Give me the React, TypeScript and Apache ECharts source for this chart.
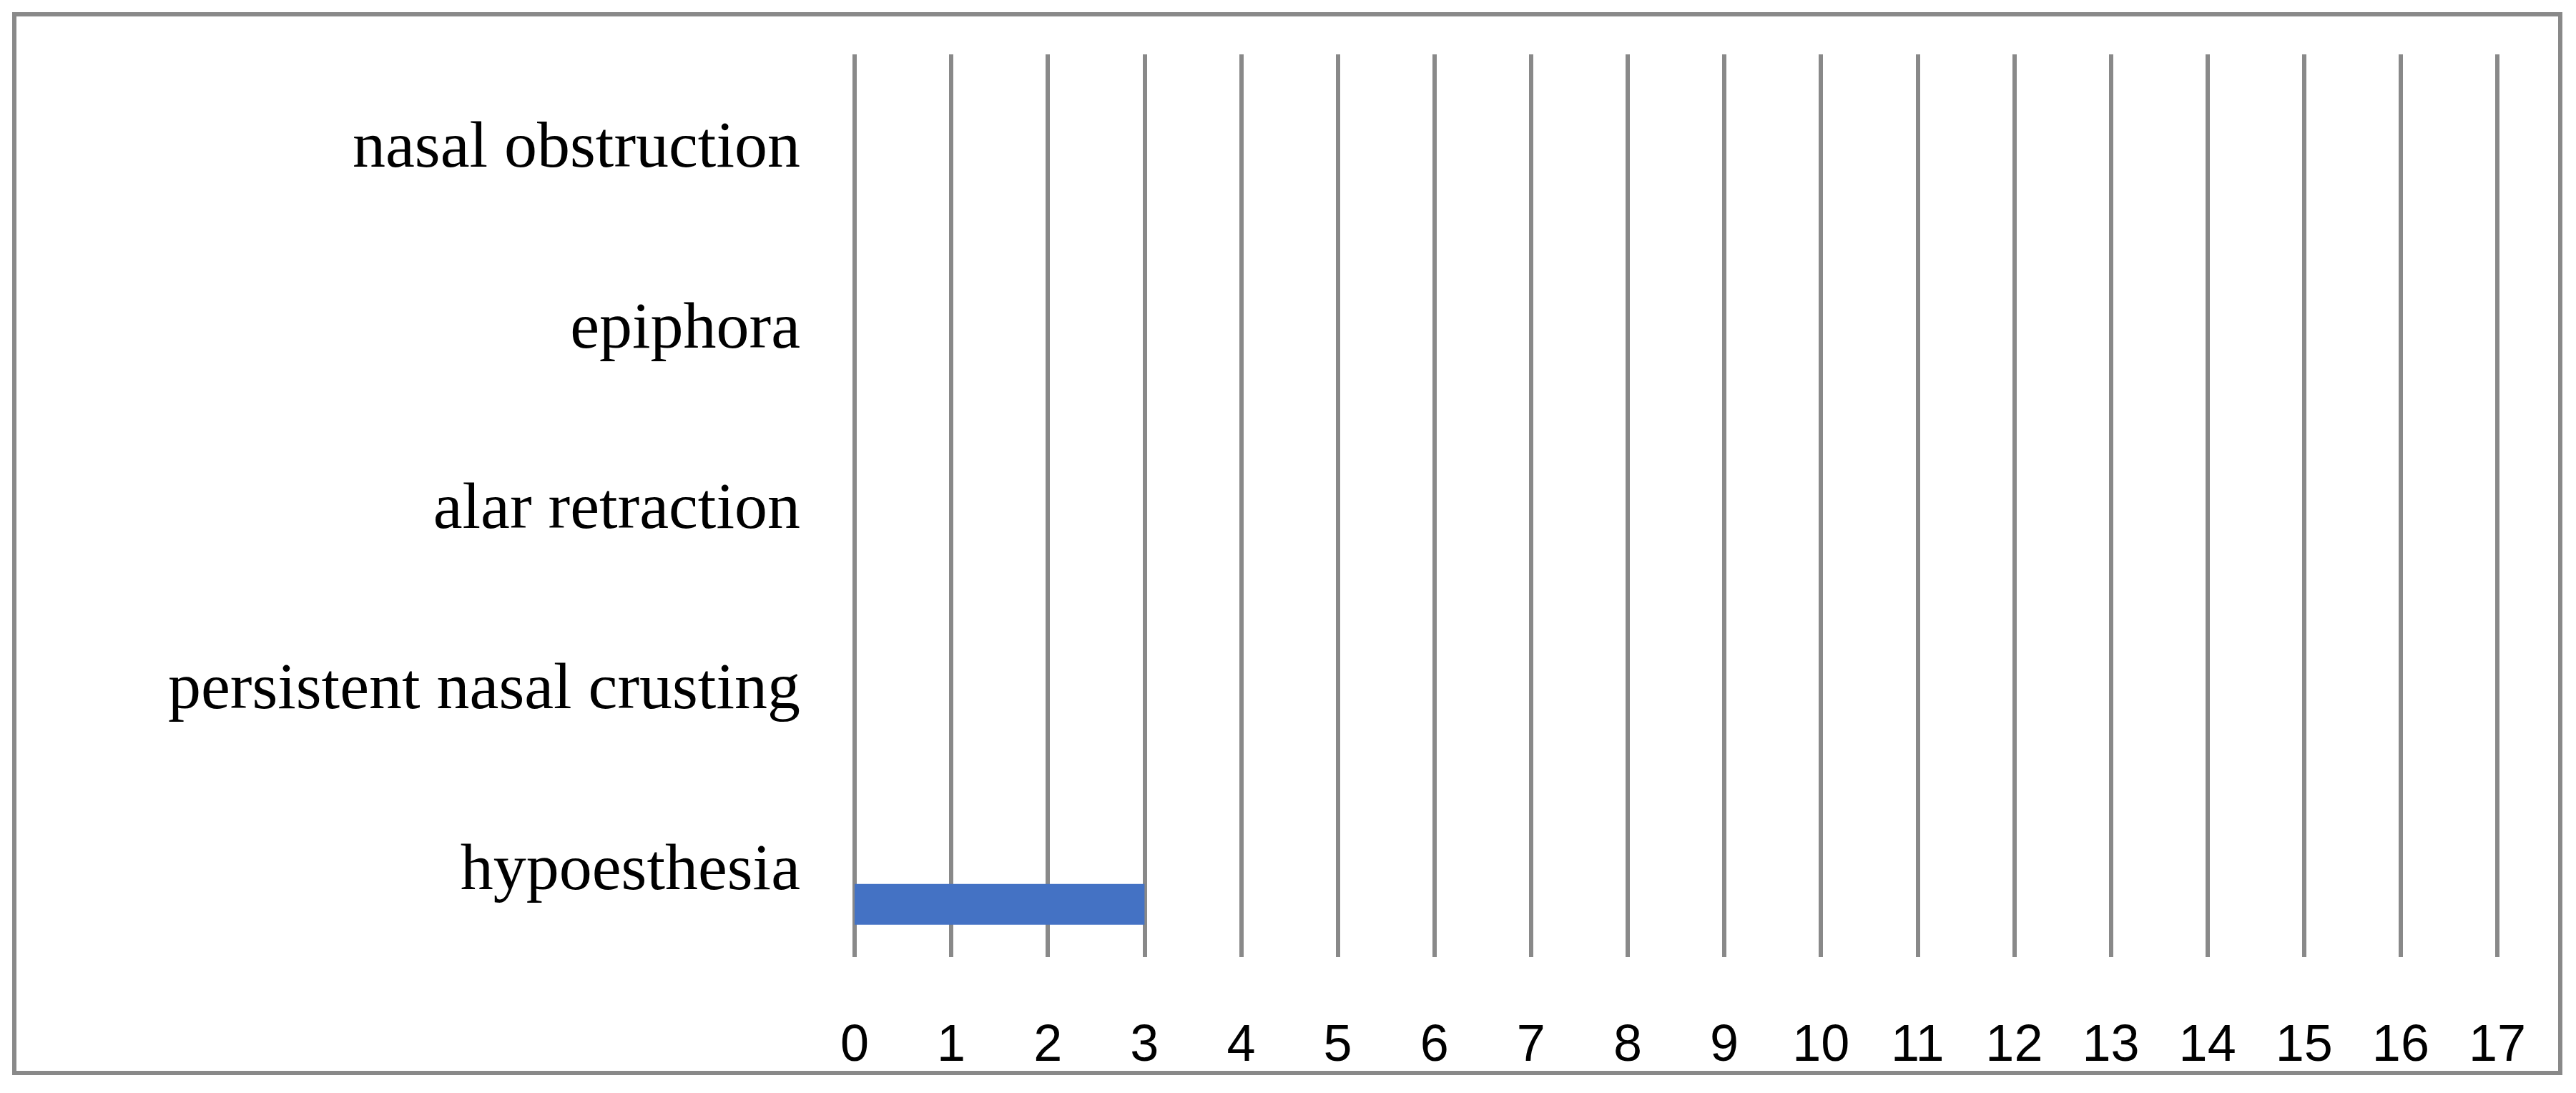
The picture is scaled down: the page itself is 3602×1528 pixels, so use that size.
import React, { useEffect, useRef } from "react";
import * as echarts from "echarts";

const categories = [
  "hypoesthesia",
  "persistent nasal crusting",
  "alar retraction",
  "epiphora",
  "nasal obstruction",
];
const emptySeries = [0, 0, 0, 0, 0];
const complicationCounts = [3, 0, 0, 0, 0];
const xMin = 0;
const xMax = 17;
const xInterval = 1;

export default function App() {
  const ref = useRef<HTMLDivElement>(null);
  useEffect(() => {
    if (!ref.current) return;
    const chart = echarts.init(ref.current, null, { renderer: "svg" });
    chart.setOption({
      animation: false,
      backgroundColor: "#ffffff",
      graphic: [
        {
          type: "rect",
          shape: { x: 20, y: 20, width: 3560, height: 1480 },
          style: { fill: "none", stroke: "#898989", lineWidth: 6 },
          silent: true,
        },
      ],
      grid: { left: 1195, right: 110, top: 76, bottom: 190, containLabel: false },
      xAxis: {
        type: "value",
        min: xMin,
        max: xMax,
        interval: xInterval,
        axisLine: { show: false },
        axisTick: { show: false },
        splitLine: { show: true, lineStyle: { color: "#898989", width: 6 } },
        axisLabel: {
          margin: 84,
          color: "#000000",
          fontFamily: "Liberation Sans",
          fontSize: 72,
        },
      },
      yAxis: {
        type: "category",
        data: categories,
        axisLine: { show: false },
        axisTick: { show: false },
        splitLine: { show: false },
        axisLabel: {
          margin: 76,
          color: "#000000",
          fontFamily: "Liberation Serif",
          fontSize: 92,
        },
      },
      series: [
        {
          name: "A",
          type: "bar",
          data: emptySeries,
          barWidth: 57,
          barGap: "84%",
          itemStyle: { color: "#ED7D31" },
        },
        {
          name: "B",
          type: "bar",
          data: complicationCounts,
          barWidth: 57,
          barGap: "84%",
          itemStyle: { color: "#4472C4" },
        },
      ],
    });
    return () => chart.dispose();
  }, []);
  return (
    <div
      ref={ref}
      style={{ position: "fixed", left: 0, top: 0, width: 3602, height: 1528 }}
    />
  );
}
